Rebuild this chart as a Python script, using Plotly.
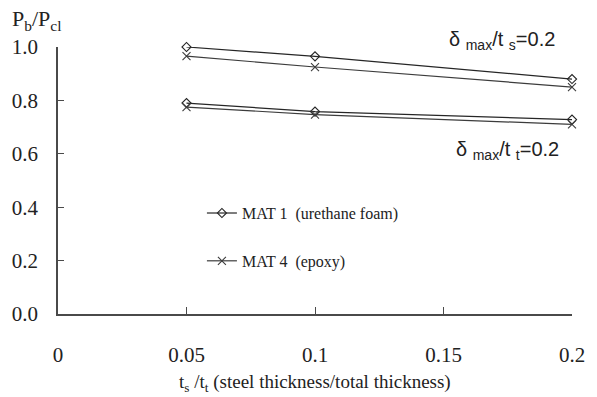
import plotly.graph_objects as go

# Thickness ratio t_s / t_t
ratio = [0.05, 0.1, 0.2]

# Normalised buckling load P_b / P_cl
mat1_ts = [1.0, 0.965, 0.88]     # MAT 1, delta_max / t_s = 0.2
mat4_ts = [0.966, 0.925, 0.85]   # MAT 4, delta_max / t_s = 0.2
mat1_tt = [0.79, 0.758, 0.728]   # MAT 1, delta_max / t_t = 0.2
mat4_tt = [0.775, 0.747, 0.71]   # MAT 4, delta_max / t_t = 0.2

x_ticks = [0, 0.05, 0.1, 0.15, 0.2]
x_ticktext = ["0", "0.05", "0.1", "0.15", "0.2"]
y_ticks = [0.0, 0.2, 0.4, 0.6, 0.8, 1.0]

SERIF = "Liberation Serif"
SANS = "Liberation Sans"

mat1_style = dict(
    mode="lines+markers", cliponaxis=False,
    line=dict(color="#262626", width=1.2),
    marker=dict(symbol="diamond-open", size=7, color="#262626", line=dict(width=1.1)),
)
mat4_style = dict(
    mode="lines+markers", cliponaxis=False,
    line=dict(color="#3c3c3c", width=1.2),
    marker=dict(symbol="x-thin", size=8, color="#3c3c3c", line=dict(width=1.1, color="#3c3c3c")),
)

fig = go.Figure()
fig.add_trace(go.Scatter(x=ratio, y=mat1_ts, name="MAT 1  (urethane foam)",
                         legendgroup="m1", **mat1_style))
fig.add_trace(go.Scatter(x=ratio, y=mat1_tt, name="MAT 1  (urethane foam)",
                         legendgroup="m1", showlegend=False, **mat1_style))
fig.add_trace(go.Scatter(x=ratio, y=mat4_ts, name="MAT 4  (epoxy)",
                         legendgroup="m4", **mat4_style))
fig.add_trace(go.Scatter(x=ratio, y=mat4_tt, name="MAT 4  (epoxy)",
                         legendgroup="m4", showlegend=False, **mat4_style))

axis_common = dict(
    showgrid=False, zeroline=False, showline=True,
    linecolor="#4a4a4a", linewidth=1.5,
    ticks="inside", tickcolor="#4a4a4a", tickwidth=1.2,
    tickfont=dict(family=SERIF, size=21, color="#222"),
)

fig.update_xaxes(
    range=[0, 0.2], tickvals=x_ticks, ticktext=x_ticktext,
    ticklen=7, ticklabelstandoff=21, **axis_common,
)
fig.update_yaxes(
    range=[0, 1.0], tickvals=y_ticks, tickformat=".1f",
    ticklen=6, ticklabelstandoff=14, **axis_common,
)

fig.add_annotation(
    text="t<sub>s</sub> /t<sub>t</sub> (steel thickness/total thickness)",
    xref="paper", yref="paper", x=0.5, y=-0.26, xanchor="center", yanchor="middle",
    showarrow=False, font=dict(family=SERIF, size=19, color="#222"),
)
fig.add_annotation(
    text="P<sub>b</sub>/P<sub>cl</sub>",
    xref="paper", yref="paper", x=-0.094, y=1.10, xanchor="left", yanchor="middle",
    showarrow=False, font=dict(family=SERIF, size=22, color="#222"),
)
fig.add_annotation(
    text="δ <sub>max</sub>/t <sub>s</sub>=0.2",
    xref="paper", yref="paper", x=0.97, y=1.025, xanchor="right", yanchor="middle",
    showarrow=False, font=dict(family=SANS, size=20, color="#222"),
)
fig.add_annotation(
    text="δ <sub>max</sub>/t <sub>t</sub>=0.2",
    xref="paper", yref="paper", x=0.978, y=0.614, xanchor="right", yanchor="middle",
    showarrow=False, font=dict(family=SANS, size=20, color="#222"),
)

fig.update_layout(
    width=597, height=397,
    margin=dict(l=56, r=16, t=47, b=83),
    paper_bgcolor="white", plot_bgcolor="white",
    showlegend=True,
    legend=dict(
        x=0.28, y=0.288, xanchor="left", yanchor="middle",
        bgcolor="rgba(0,0,0,0)", itemwidth=30, tracegroupgap=24,
        font=dict(family=SERIF, size=16, color="#222"),
    ),
)

fig.write_html("out.html")
